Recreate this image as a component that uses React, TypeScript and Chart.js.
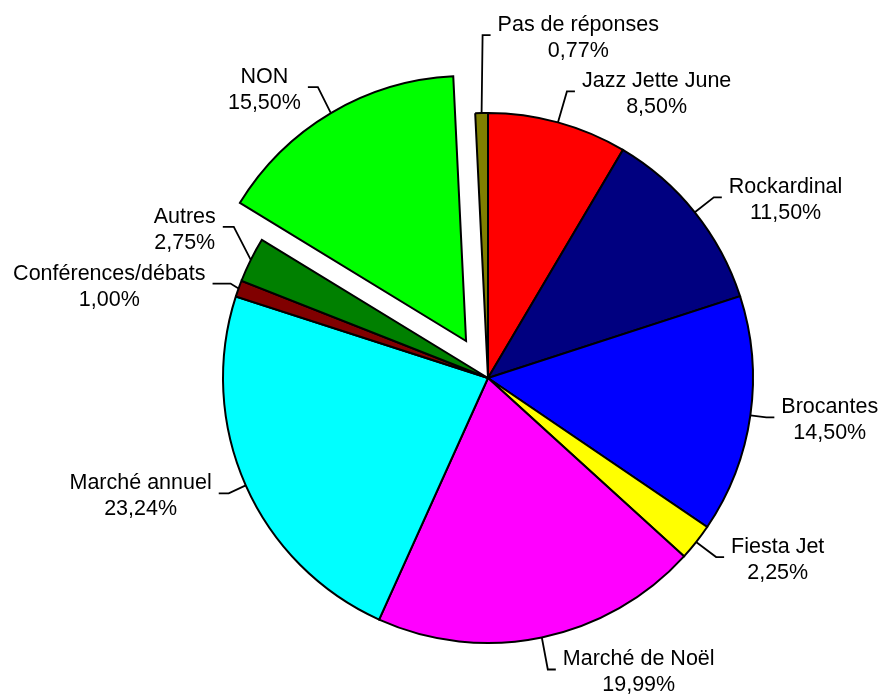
import React, { useEffect, useRef } from 'react';
import { Chart, registerables } from 'chart.js';

Chart.register(...registerables);

const categories = [
  'Jazz Jette June',
  'Rockardinal',
  'Brocantes',
  'Fiesta Jet',
  'Marché de Noël',
  'Marché annuel',
  'Conférences/débats',
  'Autres',
  'NON',
  'Pas de réponses',
];
const values = [8.5, 11.5, 14.5, 2.25, 19.99, 23.24, 1.0, 2.75, 15.5, 0.77];
const colors = ['#FF0000', '#000080', '#0000FF', '#FFFF00', '#FF00FF', '#00FFFF', '#800000', '#008000', '#00FF00', '#808000'];
// exploded distance (px) per slice
const explode = [0, 0, 0, 0, 0, 0, 0, 0, 43, 0];
// leader line: elbow offset from slice edge [dx, dy], then horizontal length
const leader: number[][] = [
  [9, -31, 8],
  [19, -15, 8],
  [16, 2, 8],
  [20, 15, 8],
  [6, 32, 8],
  [-17, 8, 10],
  [-8, -5, 18],
  [-17, -33, 11],
  [-13, -26, 10],
  [1, -78, 8],
];

const fmt = (v: number) => v.toFixed(2).replace('.', ',') + '%';

const pieLabels = {
  id: 'pieLabels',
  beforeDatasetDraw(chart: any, args: any) {
    const meta = chart.getDatasetMeta(args.index);
    const ctx = chart.ctx;
    meta.data.forEach((el: any, i: number) => {
      const mid = (el.startAngle + el.endAngle) / 2;
      ctx.save();
      ctx.translate(Math.cos(mid) * explode[i], Math.sin(mid) * explode[i]);
      el.draw(ctx);
      ctx.restore();
    });
    return false;
  },
  afterDatasetsDraw(chart: any) {
    const meta = chart.getDatasetMeta(0);
    const ctx = chart.ctx;
    ctx.save();
    ctx.font = '21.5px "Liberation Sans", Arial, sans-serif';
    ctx.fillStyle = '#000';
    ctx.strokeStyle = '#000';
    ctx.lineWidth = 1.8;
    ctx.textBaseline = 'alphabetic';
    ctx.textAlign = 'center';
    meta.data.forEach((el: any, i: number) => {
      const mid = (el.startAngle + el.endAngle) / 2;
      const ex = Math.cos(mid) * explode[i];
      const ey = Math.sin(mid) * explode[i];
      const ax = el.x + ex + Math.cos(mid) * el.outerRadius;
      const ay = el.y + ey + Math.sin(mid) * el.outerRadius;
      const [dx, dy, h] = leader[i];
      const right = dx >= 0;
      const bx = ax + dx;
      const by = ay + dy;
      const endX = bx + (right ? h : -h);
      ctx.beginPath();
      ctx.moveTo(ax, ay);
      ctx.lineTo(bx, by);
      ctx.lineTo(endX, by);
      ctx.stroke();
      const lines = [categories[i], fmt(values[i])];
      const w = Math.max(...lines.map((l) => ctx.measureText(l).width));
      const gap = 7;
      const cx = right ? endX + gap + w / 2 : endX - gap - w / 2;
      ctx.fillText(lines[0], cx, by - 4);
      ctx.fillText(lines[1], cx, by + 22);
    });
    ctx.restore();
  },
};

export default function App() {
  const ref = useRef<HTMLCanvasElement>(null);
  useEffect(() => {
    if (!ref.current) return;
    const chart = new Chart(ref.current, {
      type: 'pie',
      data: {
        labels: categories,
        datasets: [
          {
            data: values,
            backgroundColor: colors,
            borderColor: '#000',
            borderWidth: 2,
            borderJoinStyle: 'miter',
            radius: 265,
          } as any,
        ],
      },
      options: {
        responsive: false,
        animation: false,
        layout: { padding: { left: 94, right: 0, top: 61, bottom: 0 } },
        plugins: {
          legend: { display: false },
          tooltip: { enabled: false },
        },
      },
      plugins: [pieLabels],
    });
    return () => chart.destroy();
  }, []);
  return (
    <div style={{ position: 'fixed', left: 0, top: 0, width: 882, height: 695, background: '#fff' }}>
      <canvas ref={ref} width={882} height={695} style={{ display: 'block' }} />
    </div>
  );
}
